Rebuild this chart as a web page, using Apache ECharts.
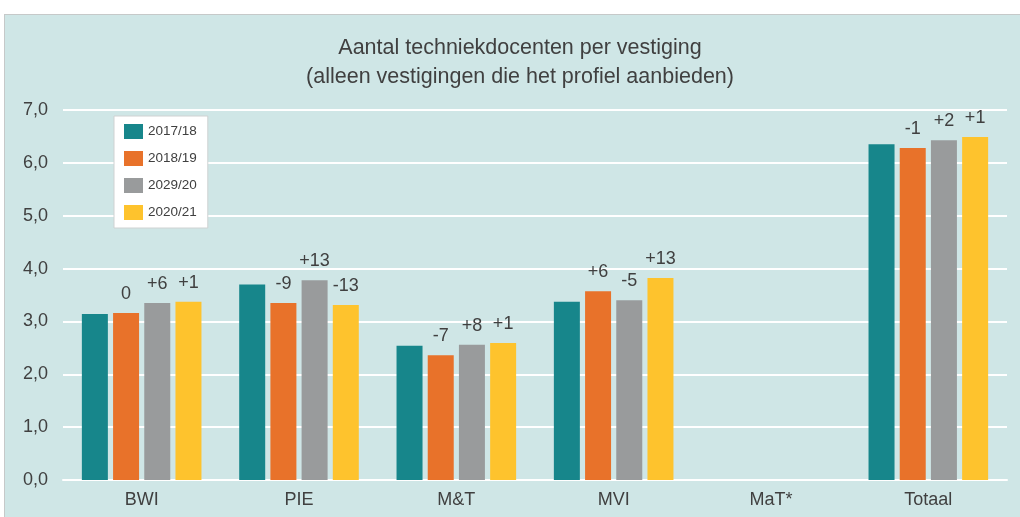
<!DOCTYPE html>
<html>
<head>
<meta charset="utf-8">
<script src="https://cdn.jsdelivr.net/npm/echarts@6/dist/echarts.min.js"></script>
<style>
  html, body { margin: 0; padding: 0; background: #fff; }
  .panel {
    position: absolute; left: 4px; top: 14px; width: 1020px; height: 510px;
    background: #cfe6e6; border: 1px solid #c6c9c9;
  }
  #chart { position: absolute; left: 0; top: 0; width: 1020px; height: 517px; }
</style>
</head>
<body>
<div class="panel"></div>
<div id="chart"></div>
<script>
const categories = ['BWI', 'PIE', 'M&T', 'MVI', 'MaT*', 'Totaal'];
const seriesNames = ['2017/18', '2018/19', '2029/20', '2020/21'];
const colors = ['#17868b', '#e8722a', '#999b9c', '#fec32d'];

const v1718 = [3.14, 3.70, 2.54, 3.37, null, 6.35];
const v1819 = [3.16, 3.35, 2.36, 3.57, null, 6.28];
const v2920 = [3.35, 3.78, 2.56, 3.40, null, 6.43];
const v2021 = [3.37, 3.31, 2.59, 3.82, null, 6.49];

// verschil t.o.v. vorig jaar (labels boven de balken)
const lbl1819 = ['0', '-9', '-7', '+6', '', '-1'];
const lbl2920 = ['+6', '+13', '+8', '-5', '', '+2'];
const lbl2021 = ['+1', '-13', '+1', '+13', '', '+1'];

const values = [v1718, v1819, v2920, v2021];
const labels = [null, lbl1819, lbl2920, lbl2021];

const chart = echarts.init(document.getElementById('chart'));
const textColor = '#404040';
const font = 'Liberation Sans, Arial, sans-serif';

const option = {
  textStyle: { fontFamily: font },
  title: {
    text: 'Aantal techniekdocenten per vestiging\n(alleen vestigingen die het profiel aanbieden)',
    left: 515,
    textAlign: 'center',
    top: 29,
    textStyle: { fontSize: 21.5, fontWeight: 'normal', color: textColor, lineHeight: 29, fontFamily: font }
  },
  legend: {
    orient: 'vertical',
    left: 114,
    top: 116,
    padding: [8, 11, 8, 10],
    itemWidth: 19,
    itemHeight: 15,
    itemGap: 12,
    backgroundColor: '#ffffff',
    borderColor: '#cfd2d2',
    borderWidth: 1,
    icon: 'rect',
    textStyle: { fontSize: 13.5, color: textColor, fontFamily: font },
    data: seriesNames
  },
  grid: { left: 63, right: 13, top: 110, bottom: 37 },
  xAxis: {
    type: 'category',
    data: categories,
    axisTick: { show: false },
    axisLine: { lineStyle: { color: '#ffffff', width: 2 } },
    axisLabel: { color: textColor, fontSize: 18, margin: 11, fontFamily: font }
  },
  yAxis: {
    type: 'value',
    min: 0,
    max: 7,
    interval: 1,
    axisLine: { show: false },
    axisTick: { show: false },
    splitLine: { lineStyle: { color: '#ffffff', width: 2 } },
    axisLabel: {
      color: textColor, fontSize: 18, margin: 15, fontFamily: font,
      formatter: v => v.toFixed(1).replace('.', ',')
    }
  },
  series: seriesNames.map((name, i) => ({
    name: name,
    type: 'bar',
    data: values[i],
    barWidth: 26,
    barGap: '20%',
    itemStyle: { color: colors[i] },
    label: labels[i] ? {
      show: true,
      position: 'top',
      distance: 10,
      fontSize: 18,
      color: textColor,
      fontFamily: font,
      formatter: p => labels[i][p.dataIndex]
    } : { show: false }
  }))
};

chart.setOption(option);
window.addEventListener('resize', () => chart.resize());
</script>
</body>
</html>
